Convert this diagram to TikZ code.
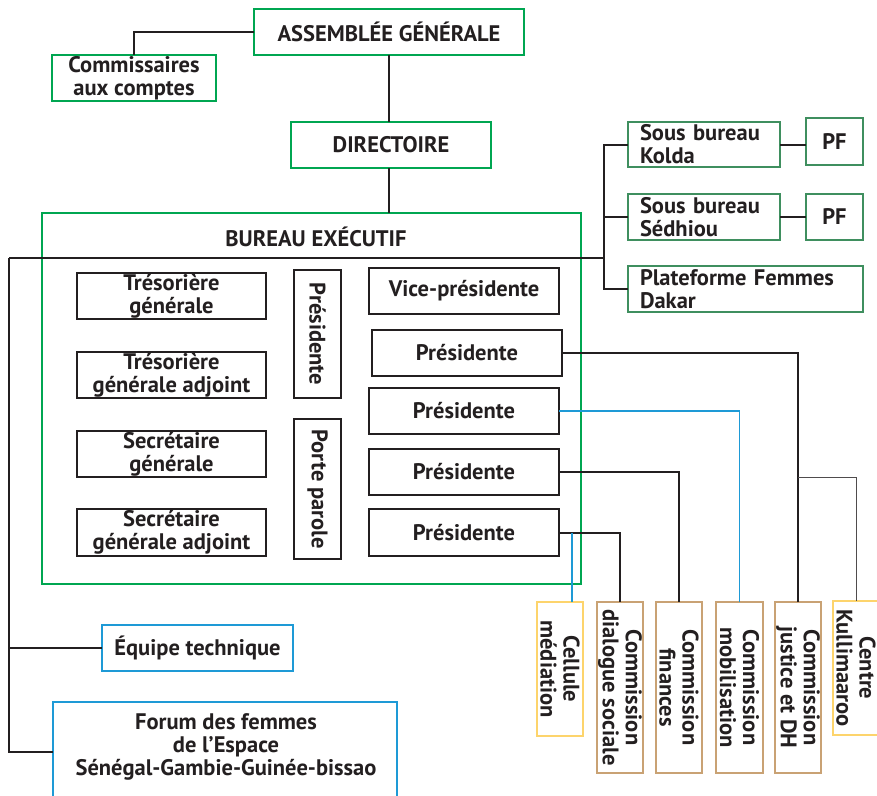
\documentclass[tikz,border=0pt]{standalone}
\usepackage{fontspec}
\setmainfont{PT Sans}
\usetikzlibrary{calc}
\definecolor{grn}{HTML}{00A651}
\definecolor{dgrn}{HTML}{3F8F5F}
\definecolor{blu}{HTML}{1E9AD6}
\definecolor{ylw}{HTML}{FDD46C}
\definecolor{tan}{HTML}{C9A274}
\definecolor{ink}{HTML}{231F20}
\begin{document}
\begin{tikzpicture}[x=1pt,y=-1pt,
  every node/.style={font=\bfseries\fontsize{22.5}{23}\selectfont, text=ink, inner sep=0pt, outer sep=0pt, align=center},
  sz/.style 2 args={minimum width=#1, minimum height=#2},
  gbox/.style={draw=grn, line width=2.3pt},
  sbox/.style={draw=dgrn, line width=2pt},
  kbox/.style={draw=ink, line width=1.5pt},
  bbox/.style={draw=blu, line width=2.3pt},
  ybox/.style={draw=ylw, line width=2.4pt},
  tbox/.style={draw=tan, line width=2pt},
  vert/.style={rotate=-90},
  conn/.style={draw=ink, line width=2pt},
  bconn/.style={draw=blu, line width=1.2pt},
  gconn/.style={draw=ink!80, line width=1pt}
]
\useasboundingbox (0,0) rectangle (877,795);

% top
\node[gbox, sz={270}{46}] (ag) at (389,32) {ASSEMBLÉE GÉNÉRALE};
\node[gbox, sz={164}{46}] (cac) at (134,78) {Commissaires\\aux comptes};
\node[gbox, sz={200}{46}] (dir) at (391,145) {DIRECTOIRE};

% bureau executif
\node[gbox, sz={539}{371}] (be) at (311.5,398.5) {};
\node (bet) at (316,237) {BUREAU EXÉCUTIF};

\node[kbox, sz={189}{46}] (tg) at (171.5,296) {Trésorière\\générale};
\node[kbox, sz={189}{46}] (tga) at (171.5,375) {Trésorière\\générale adjoint};
\node[kbox, sz={189}{46}] (sg) at (171.5,454) {Secrétaire\\générale};
\node[kbox, sz={189}{47}] (sga) at (171.5,532.5) {Secrétaire\\générale adjoint};
\node[kbox, vert, sz={128}{47}] (pres) at (317.5,334) {Présidente};
\node[kbox, vert, sz={140}{47}] (pp) at (317.5,489) {Porte parole};
\node[kbox, sz={190}{46}] (vp) at (464,291) {Vice-présidente};
\node[kbox, sz={190}{46}] (p1) at (467,353) {Présidente};
\node[kbox, sz={190}{46}] (p2) at (464,411) {Présidente};
\node[kbox, sz={190}{46}] (p3) at (464,472) {Présidente};
\node[kbox, sz={190}{47}] (p4) at (464,532.5) {Présidente};

% sous bureaux
\node[sbox, sz={152}{45}, text width=128pt, align=left] (kol) at (704,144.5) {Sous bureau\\Kolda};
\node[sbox, sz={152}{46}, text width=128pt, align=left] (sed) at (704,217) {Sous bureau\\Sédhiou};
\node[sbox, sz={235}{46}, text width=211pt, align=left] (pla) at (745.5,289) {Plateforme Femmes\\Dakar};
\node[sbox, sz={57}{47}] (pf1) at (834.5,141.5) {PF};
\node[sbox, sz={57}{46}] (pf2) at (834.5,217) {PF};

% commissions
\node[ybox, vert, sz={134}{46}] (cm) at (560,669) {Cellule\\médiation};
\node[tbox, vert, sz={171}{46}] (cds) at (620,687.5) {Commission\\dialogue sociale};
\node[tbox, vert, sz={171}{46}] (cf) at (679,687.5) {Commission\\finances};
\node[tbox, vert, sz={171}{47}] (cmob) at (739.5,687.5) {Commission\\mobilisation};
\node[tbox, vert, sz={171}{46}] (cj) at (798,687.5) {Commission\\justice et DH};
\node[ybox, vert, sz={134}{46}] (ck) at (856,668) {Centre\\Kullimaaroo};

% left
\node[bbox, sz={191}{46}] (eq) at (197.5,648) {Équipe technique};
\node[bbox, sz={344}{100}] (forum) at (225,752) {};
\node (fort) at (226,747) {Forum des femmes\\de l’Espace\\Sénégal-Gambie-Guinée-bissao};

% coordinates
\coordinate (L) at (9,258);
\coordinate (R) at (604,258);
\coordinate (cmj) at (572,602);
\coordinate (kj) at (798,477);

% connectors
\draw[conn] (ag.west) -| (cac.north);
\draw[conn] (ag.south) -- (ag.south |- dir.north);
\draw[conn] (ag.south |- dir.south) -- (ag.south |- be.north);
\draw[conn] (L) -- (R);
\draw[conn] (kol.west) -- (kol.west -| R) |- (pla.west);
\draw[conn] (sed.west) -- (sed.west -| R);
\draw[conn] (kol.east) -- (kol.east -| pf1.west);
\draw[conn] (sed.east) -- (pf2.west);
\draw[conn] (L) |- (forum.west);
\draw[conn] (L |- eq.west) -- (eq.west);
\draw[conn] (p1.east) -| (cj.west);
\draw[bconn] (p2.east) -| (cmob.west);
\draw[conn] (p3.east) -| (cf.west);
\draw[conn] (p4.east) -| (cds.west);
\draw[bconn] (p4.east -| cmj) -- (cmj);
\draw[gconn] (kj) -| (ck.west);
\end{tikzpicture}
\end{document}
